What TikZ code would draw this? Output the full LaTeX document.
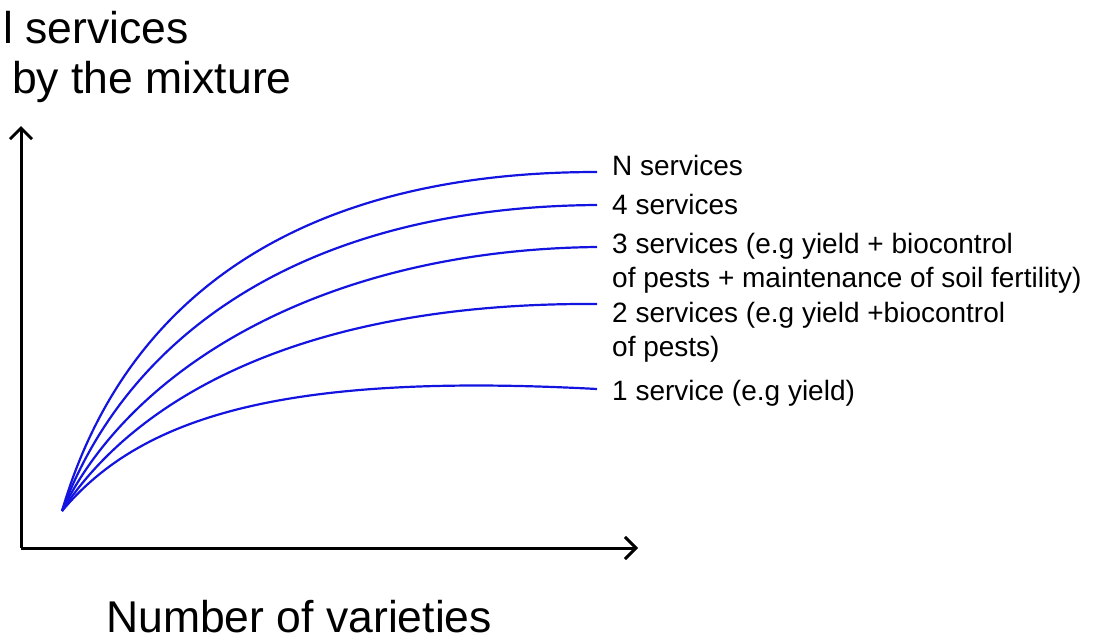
\documentclass[tikz,border=0pt]{standalone}
\usepackage{fontspec}
\setmainfont{Liberation Sans}
\usetikzlibrary{arrows.meta}
\begin{document}
\begin{tikzpicture}[x=1pt,y=-1pt,
  axisline/.style={line width=3pt, black, -{Straight Barb[length=11pt,width=22pt,line width=3pt]}},
  curve/.style={line width=2.2pt, draw={rgb,255:red,20;green,20;blue,225}},
  lab/.style={font=\fontsize{28}{34}\selectfont, anchor=base west, inner sep=0pt, align=left},
  big/.style={font=\fontsize{44.5}{50}\selectfont, anchor=base west, inner sep=0pt}]
\useasboundingbox (0,0) rectangle (1093,642);
% axes
\coordinate (A) at (21,548);
\coordinate (Ay) at (21,126);
\coordinate (Ax) at (638,548);
\draw[axisline] (A) -- (Ay);
\draw[axisline] (A) -- (Ax);
% curves
\coordinate (O) at (62,511);
\coordinate (eN) at (597,172);
\coordinate (e4) at (597,205);
\coordinate (e3) at (597,247);
\coordinate (e2) at (597,304);
\coordinate (e1) at (597,389);
\draw[curve] (O) .. controls (122,305) and (290,172) .. (eN);
\draw[curve] (O) .. controls (126,338) and (300,207) .. (e4);
\draw[curve] (O) .. controls (130,370) and (320,250) .. (e3);
\draw[curve] (O) .. controls (134,400) and (300,302) .. (e2);
\draw[curve] (O) .. controls (140,418) and (280,372) .. (e1);
% labels
\node[lab] (lN) at (612,175) {N services};
\node[lab] (l4) at (612,214) {4 services};
\node[lab] (l3) at (612,287) {3 services (e.g yield + biocontrol\\of pests + maintenance of soil fertility)};
\node[lab] (l2) at (612,356) {2 services (e.g yield +biocontrol\\of pests)};
\node[lab] (l1) at (612,400) {1 service (e.g yield)};
% axis titles
\node[big] (ty1) at (3,44) {l services};
\node[big] (ty2) at (12,94) {by the mixture};
\node[big] (tx) at (106,632) {Number of varieties};
\end{tikzpicture}
\end{document}
